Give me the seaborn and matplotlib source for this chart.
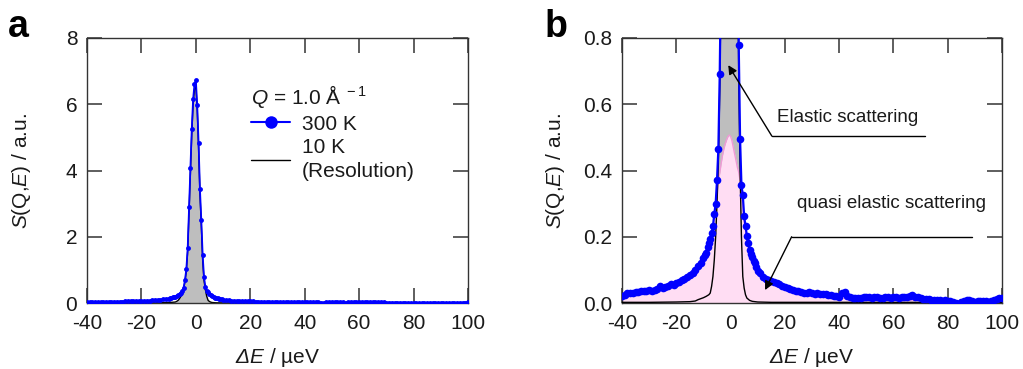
import numpy as np
import pandas as pd
import matplotlib
matplotlib.use("Agg")
import matplotlib.pyplot as plt
from matplotlib.lines import Line2D
import seaborn as sns

# ---------------- data ----------------
E_300 = [-40, -39, -38, -37, -36, -35, -34, -33, -32, -31, -30, -29, -28, -27, -26,
         -25, -24, -23, -22, -21, -20, -19, -18, -17, -16, -15, -14, -13, -12, -11, -10,
         -9.5, -9.0, -8.5, -8.0, -7.5, -7.0, -6.5, -6.0, -5.5, -5.0, -4.5, -4.0, -3.5,
         -3.0, -2.5, -2.0, -1.5, -1.0, -0.5, 0.0, 0.5, 1.0, 1.5, 2.0, 2.5, 3.0, 3.5,
         4.0, 4.5, 5.0, 5.5, 6.0, 6.5, 7.0, 7.5, 8.0, 8.5, 9.0, 9.5,
         10, 11, 12, 13, 14, 15, 16, 17, 18, 19, 20, 21, 22, 23, 24, 25, 26, 27, 28, 29,
         30, 31, 32, 33, 34, 35, 36, 37, 38, 39, 40, 41, 42, 43, 44, 45, 46, 47, 48, 49,
         50, 51, 52, 53, 54, 55, 56, 57, 58, 59, 60, 61, 62, 63, 64, 65, 66, 67, 68, 69,
         70, 71, 72, 73, 74, 75, 76, 77, 78, 79, 80, 81, 82, 83, 84, 85, 86, 87, 88, 89,
         90, 91, 92, 93, 94, 95, 96, 97, 98, 99, 100]
S_300 = [0.020, 0.024, 0.029, 0.031, 0.030, 0.034, 0.033, 0.036, 0.035, 0.037, 0.038,
         0.036, 0.040, 0.043, 0.052, 0.046, 0.049, 0.051, 0.056, 0.055, 0.061, 0.064,
         0.069, 0.073, 0.079, 0.084, 0.091, 0.100, 0.112, 0.122, 0.135,
         0.145, 0.152, 0.168, 0.180, 0.192, 0.210, 0.232, 0.268, 0.300, 0.370, 0.465,
         0.690, 1.020, 1.650, 2.890, 4.070, 5.250, 6.160, 6.600, 6.720, 5.980, 4.840,
         3.440, 2.510, 1.450, 0.780, 0.495, 0.356, 0.326, 0.262, 0.232, 0.203, 0.180,
         0.160, 0.148, 0.138, 0.128, 0.120, 0.108,
         0.098, 0.090, 0.080, 0.073, 0.068, 0.065, 0.062, 0.060, 0.056, 0.052, 0.048,
         0.046, 0.042, 0.040, 0.036, 0.035, 0.034, 0.031, 0.030, 0.033, 0.029, 0.028,
         0.030, 0.027, 0.026, 0.026, 0.025, 0.023, 0.022, 0.020, 0.019, 0.030, 0.034,
         0.021, 0.017, 0.016, 0.014, 0.015, 0.016, 0.018, 0.019, 0.017, 0.016, 0.018,
         0.017, 0.015, 0.016, 0.018, 0.017, 0.016, 0.017, 0.018, 0.016, 0.017, 0.019,
         0.018, 0.020, 0.023, 0.019, 0.017, 0.015, 0.013, 0.012, 0.011, 0.010, 0.010,
         0.009, 0.008, 0.007, 0.008, 0.006, 0.005, 0.003, 0.001, -0.002, 0.002, 0.006,
         0.010, 0.008, 0.006, 0.004, 0.006, 0.005, 0.007, 0.005, 0.004, 0.007, 0.009,
         0.011, 0.014, 0.016]

E_res = [-40, -30, -20, -15, -13, -12, -11, -10, -9, -8, -7.5, -7, -6.5, -6, -5.5, -5,
         -4.5, -4, -3.5, -3, -2.5, -2, -1.5, -1, -0.5, 0, 0.5, 1, 1.5, 2, 2.5, 3, 3.5,
         4, 4.5, 5, 5.5, 6, 7, 8, 10, 15, 20, 30, 40, 60, 80, 100]
S_res = [0.002, 0.002, 0.003, 0.004, 0.006, 0.010, 0.013, 0.016, 0.020, 0.025, 0.030,
         0.050, 0.080, 0.130, 0.200, 0.300, 0.420, 0.640, 0.960, 1.560, 2.760, 3.930,
         5.100, 6.000, 6.450, 6.550, 5.850, 4.700, 3.300, 2.350, 1.300, 0.680, 0.400,
         0.200, 0.080, 0.045, 0.025, 0.015, 0.008, 0.005, 0.003, 0.002, 0.002, 0.002,
         0.002, 0.002, 0.002, 0.002]

E_qe = [-40, -35, -30, -25, -20, -17, -15, -13, -11, -10, -9, -8, -7, -6, -5.5, -5,
        -4.5, -4, -3.5, -3, -2.5, -2, -1.5, -1, -0.5, 0, 0.5, 1, 1.5, 2, 2.5, 3, 3.5,
        4, 4.5, 5, 5.5, 6, 7, 8, 9, 10, 11, 13, 15, 17, 20, 25, 30, 35, 40, 50, 60,
        80, 100]
S_qe = [0.015, 0.028, 0.033, 0.041, 0.053, 0.064, 0.076, 0.092, 0.113, 0.125, 0.142,
        0.168, 0.198, 0.255, 0.290, 0.330, 0.370, 0.392, 0.420, 0.445, 0.465, 0.480,
        0.492, 0.502, 0.507, 0.503, 0.490, 0.470, 0.450, 0.430, 0.410, 0.395, 0.370,
        0.330, 0.290, 0.245, 0.220, 0.190, 0.152, 0.130, 0.113, 0.093, 0.085, 0.068,
        0.058, 0.052, 0.042, 0.030, 0.024, 0.020, 0.015, 0.012, 0.010, 0.006, 0.005]

x_ticks = [-40, -20, 0, 20, 40, 60, 80, 100]
y_ticks_a = [0, 2, 4, 6, 8]
y_ticks_b = [0.0, 0.2, 0.4, 0.6, 0.8]

# annotation anchors (data coords of panel b)
elastic_text = (17.0, 0.56)
elastic_line = (15.2, 71.6, 0.504)
elastic_tip = (-0.85, 0.718)
qe_text = (24.4, 0.299)
qe_line = (22.5, 88.8, 0.200)
qe_tip = (12.7, 0.039)

# ---------------- style ----------------
sns.set_theme(style="ticks")
plt.rcParams['font.family'] = ['Liberation Sans', 'DejaVu Sans']
plt.rcParams['mathtext.fontset'] = 'custom'
plt.rcParams['mathtext.rm'] = 'Liberation Sans'
plt.rcParams['mathtext.it'] = 'Liberation Sans:italic'
plt.rcParams['mathtext.bf'] = 'Liberation Sans:bold'
plt.rcParams['axes.unicode_minus'] = False

BLUE = '#0000FF'
GRAY = '#BEBEBE'
PINK = '#FFDDF3'
PINK_EDGE = '#F09AD6'
INK = '#1a1a1a'

df300 = pd.DataFrame({'E': E_300, 'S': S_300})
dfres = pd.DataFrame({'E': E_res, 'S': S_res})
dfqe = pd.DataFrame({'E': E_qe, 'S': S_qe})

fig = plt.figure(figsize=(10.23, 3.69), dpi=100)
ax1 = fig.add_axes([0.08504, 0.17886, 0.37243, 0.71816])
ax2 = fig.add_axes([0.60802, 0.17886, 0.37146, 0.71816])


def style_axes(ax, yticks, ylim, fmt):
    ax.set_xlim(-40, 100)
    ax.set_ylim(*ylim)
    ax.set_xticks(x_ticks)
    ax.set_yticks(yticks)
    ax.set_yticklabels([fmt.format(v) for v in yticks])
    ax.tick_params(direction='in', length=10.5, width=1.1, top=True, right=True,
                   labelsize=15, color='#333333', labelcolor=INK, pad=7)
    ax.tick_params(axis='x', pad=8)
    for sp in ax.spines.values():
        sp.set_visible(True)
        sp.set_linewidth(1.0)
        sp.set_color('#333333')
    ax.set_xlabel('ΔE' + r'$\mathrm{\ /\ µeV}$', fontsize=15, color=INK,
                  fontstyle='italic')
    ax.set_ylabel(r'$S$(Q,$E$) / a.u.', fontsize=15, color=INK)
    ax.xaxis.set_label_coords(0.5, -0.204)
    ax.xaxis.label.set_va('center')
    ax.yaxis.label.set_va('center')


# ---------------- panel a ----------------
ax1.fill_between(dfres['E'], 0, dfres['S'], color=GRAY, lw=0, zorder=1)
sns.lineplot(data=dfres, x='E', y='S', ax=ax1, color='black', lw=1.0, zorder=2,
             estimator=None)
sns.lineplot(data=df300, x='E', y='S', ax=ax1, color=BLUE, lw=1.3, marker='o',
             markersize=3.5, markeredgewidth=0, zorder=3, estimator=None)
style_axes(ax1, y_ticks_a, (0, 8), '{:.0f}')
ax1.yaxis.set_label_coords(-0.171, 0.5)

handles = [Line2D([], [], color=BLUE, lw=1.5, marker='o', markersize=9,
                  markeredgewidth=0),
           Line2D([], [], color='black', lw=1.0)]
leg = ax1.legend(handles, ['300 K', '10 K\n(Resolution)'],
                 title=r'$Q$ = 1.0 Å$^{\ -1}$', title_fontsize=15, fontsize=15,
                 loc='upper left', bbox_to_anchor=(0.43, 0.83), frameon=False,
                 alignment='left', handlelength=1.9, handletextpad=0.55,
                 labelspacing=0.22, borderpad=0, borderaxespad=0)
for t in leg.get_texts():
    t.set_color(INK)
    t.set_linespacing(1.3)
leg.get_title().set_color(INK)

# ---------------- panel b ----------------
ax2.fill_between(dfres['E'], 0, dfres['S'], color=GRAY, lw=0, zorder=1)
ax2.fill_between(dfqe['E'], 0, dfqe['S'], color=PINK, lw=0, zorder=2)
sns.lineplot(data=dfqe, x='E', y='S', ax=ax2, color=PINK_EDGE, lw=1.0, zorder=2.5,
             estimator=None)
sns.lineplot(data=dfres, x='E', y='S', ax=ax2, color='black', lw=1.0, zorder=3,
             estimator=None)
sns.lineplot(data=df300, x='E', y='S', ax=ax2, color=BLUE, lw=1.6, marker='o',
             markersize=5.5, markeredgewidth=0, zorder=4, estimator=None)
style_axes(ax2, y_ticks_b, (0, 0.8), '{:.1f}')
ax2.yaxis.set_label_coords(-0.174, 0.5)

arrow = dict(arrowstyle='-|>', color='black', lw=1.0, mutation_scale=13,
             shrinkA=0, shrinkB=0)
ax2.text(elastic_text[0], elastic_text[1], 'Elastic scattering', fontsize=13.5,
         va='center', ha='left', color=INK, zorder=6)
ax2.plot([elastic_line[0], elastic_line[1]], [elastic_line[2], elastic_line[2]],
         color='black', lw=1.0, zorder=6)
ax2.annotate('', xy=elastic_tip, xytext=(elastic_line[0], elastic_line[2]),
             arrowprops=arrow, zorder=6)
ax2.text(qe_text[0], qe_text[1], 'quasi elastic scattering', fontsize=13.5,
         va='center', ha='left', color=INK, zorder=6)
ax2.plot([qe_line[0], qe_line[1]], [qe_line[2], qe_line[2]],
         color='black', lw=1.0, zorder=6)
ax2.annotate('', xy=qe_tip, xytext=(qe_line[0], qe_line[2]),
             arrowprops=arrow, zorder=6)

# panel letters
fig.text(0.0078, 0.8997, 'a', fontsize=27, fontweight='bold', ha='left',
         va='baseline', color='black')
fig.text(0.5327, 0.8997, 'b', fontsize=27, fontweight='bold', ha='left',
         va='baseline', color='black')

fig.savefig('out.png', dpi=100)
